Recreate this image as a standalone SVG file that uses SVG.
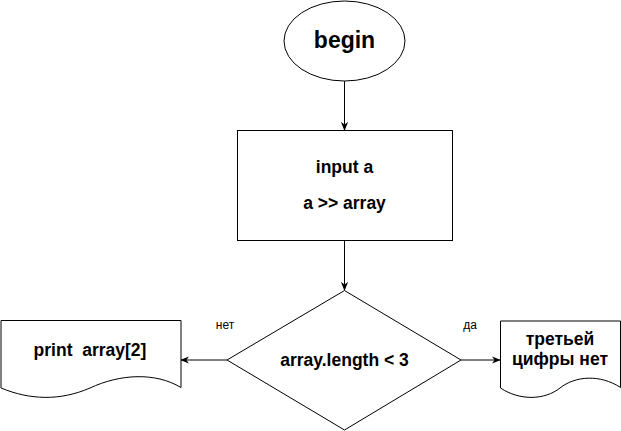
<svg xmlns="http://www.w3.org/2000/svg" width="621" height="431" viewBox="0 0 621 431">
<style>
.s{fill:#fff;stroke:#000;stroke-width:1}
.t{font-family:"Liberation Sans",Arial,sans-serif;font-weight:bold;font-size:17.5px;fill:#000;text-anchor:middle}
.l{font-family:"Liberation Sans",Arial,sans-serif;font-size:12px;fill:#000;text-anchor:middle}
.c{fill:none;stroke:#000;stroke-width:1}
</style>
<defs>
<marker id="a" viewBox="0 0 10 10" refX="9" refY="5" markerWidth="9" markerHeight="9" orient="auto" markerUnits="userSpaceOnUse">
<path d="M0,1 L10,5 L0,9 L3,5 Z" fill="#000"/>
</marker>
</defs>
<rect width="621" height="431" fill="#fff"/>
<g id="connectors">
<line class="c" x1="344.5" y1="81" x2="344.5" y2="130" marker-end="url(#a)"/>
<line class="c" x1="344.5" y1="240" x2="344.5" y2="290" marker-end="url(#a)"/>
<line class="c" x1="227" y1="360" x2="181" y2="360" marker-end="url(#a)"/>
<line class="c" x1="461" y1="360" x2="500" y2="360" marker-end="url(#a)"/>
</g>
<g id="begin">
<ellipse class="s" cx="344.5" cy="41" rx="60.5" ry="40"/>
<text class="t" x="344.5" y="48" style="font-size:23px">begin</text>
</g>
<g id="input">
<rect class="s" x="237.5" y="130.5" width="215" height="110"/>
<text class="t" x="344.5" y="173">input a</text>
<text class="t" x="344.5" y="209">a &gt;&gt; array</text>
</g>
<g id="decision">
<path class="s" d="M344.5,290.5 L461,360 L344.5,430 L227,360 Z"/>
<text class="t" x="344.5" y="366">array.length &lt; 3</text>
</g>
<g id="print">
<path class="s" d="M1,320.5 H181 V387.5 C155,372 120,374 90,388 C60,401 30,400 1,388 Z"/>
<text class="t" x="90" y="356" style="white-space:pre" xml:space="preserve">print  array[2]</text>
</g>
<g id="nothird">
<path class="s" d="M500.5,321 H620.5 V387.5 C600,374 575,376 560,388 C545,400 520,401 500.5,388 Z"/>
<text class="t" x="560" y="345">третьей</text>
<text class="t" x="560" y="365">цифры нет</text>
</g>
<g id="labels">
<text class="l" x="225" y="329">нет</text>
<text class="l" x="470" y="329">да</text>
</g>
</svg>
